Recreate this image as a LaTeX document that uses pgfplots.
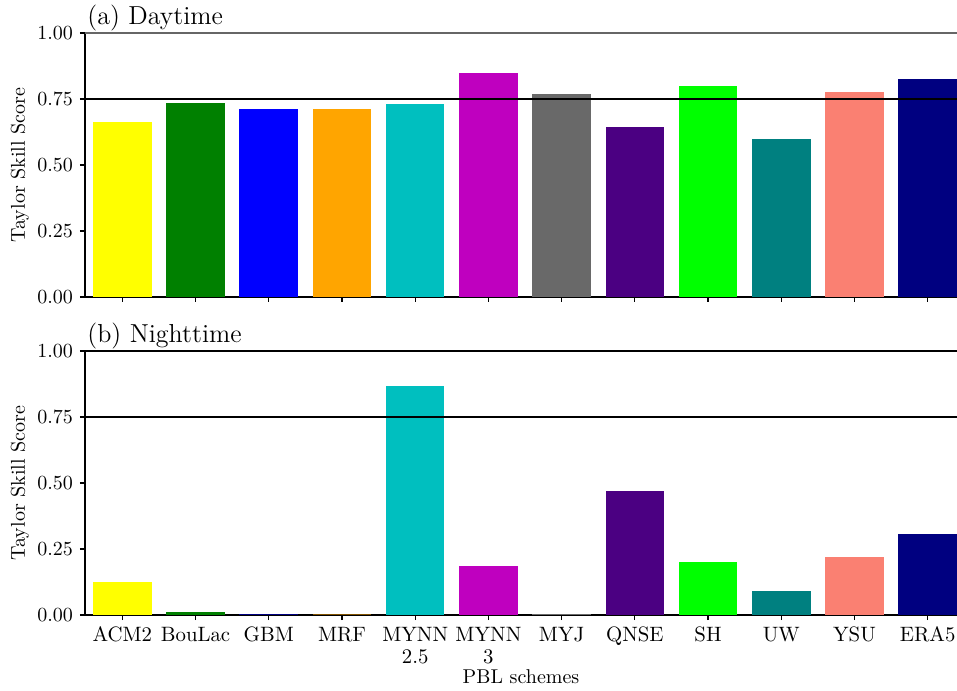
\documentclass[border=0pt]{standalone}
\usepackage{pgfplots}
\pgfplotsset{compat=1.18}
\definecolor{cYellow}{HTML}{FFFF00}
\definecolor{cGreen}{HTML}{008000}
\definecolor{cBlue}{HTML}{0000FF}
\definecolor{cOrange}{HTML}{FFA500}
\definecolor{cCyan}{HTML}{00BFBF}
\definecolor{cMag}{HTML}{BF00BF}
\definecolor{cGray}{HTML}{696969}
\definecolor{cIndigo}{HTML}{4B0082}
\definecolor{cLime}{HTML}{00FF00}
\definecolor{cTeal}{HTML}{008080}
\definecolor{cSalmon}{HTML}{FA8072}
\definecolor{cNavy}{HTML}{000080}
\definecolor{spinegray}{HTML}{666666}
\pgfplotsset{
  b/.style={fill=#1, draw=none, bar shift=0pt},
  panel/.style={
    width=436pt, height=132pt, scale only axis,
    xmin=-0.51, xmax=11.4, ymin=0, ymax=1,
    enlargelimits=false,
    axis x line*=bottom, axis y line*=left,
    axis line style={-, line width=0.6pt, black},
    tick align=outside, major tick length=2.5pt,
    tick style={black, line width=0.6pt},
    xtick={0,1,2,3,4,5,6,7,8,9,10,11},
    ytick={0,0.25,0.5,0.75,1},
    tick label style={font=\fontsize{10.4}{10.9}\selectfont},
    label style={font=\fontsize{10.4}{12}\selectfont},
    yticklabel style={/pgf/number format/fixed, /pgf/number format/fixed zerofill, /pgf/number format/precision=2},
    every axis y label/.style={at={([xshift=-32.5pt]axis description cs:0,0.5)}, rotate=90, anchor=center},
    ylabel={Taylor Skill Score},
    clip=false,
    ybar, bar width=0.8,
  },
}
\begin{document}
\begin{tikzpicture}
\begin{axis}[panel, at={(0,159pt)}, anchor=south west, xticklabels={}]
\addplot[b=cYellow] coordinates {(0,0.663)};
\addplot[b=cGreen] coordinates {(1,0.735)};
\addplot[b=cBlue] coordinates {(2,0.712)};
\addplot[b=cOrange] coordinates {(3,0.712)};
\addplot[b=cCyan] coordinates {(4,0.731)};
\addplot[b=cMag] coordinates {(5,0.848)};
\addplot[b=cGray] coordinates {(6,0.769)};
\addplot[b=cIndigo] coordinates {(7,0.644)};
\addplot[b=cLime] coordinates {(8,0.799)};
\addplot[b=cTeal] coordinates {(9,0.598)};
\addplot[b=cSalmon] coordinates {(10,0.777)};
\addplot[b=cNavy] coordinates {(11,0.826)};
\draw[line width=1pt, black] (rel axis cs:0,0.75) -- (rel axis cs:1,0.75);
\draw[line width=0.7pt, spinegray] (rel axis cs:0,1) -- (rel axis cs:1,1);
\node[anchor=base west, font=\fontsize{13}{15}\selectfont, inner sep=0pt] at (rel axis cs:0,1) [yshift=4pt, xshift=1pt] {(a) Daytime};
\end{axis}
\begin{axis}[panel, at={(0,0)}, anchor=south west,
  xticklabels={ACM2,BouLac,GBM,MRF,{MYNN\\2.5},{MYNN\\3},MYJ,QNSE,SH,UW,YSU,ERA5},
  xticklabel style={align=center},
  every axis x label/.style={at={(axis description cs:0.5,0)}, anchor=base, yshift=-34pt},
  xlabel={PBL schemes}]
\addplot[b=cYellow] coordinates {(0,0.125)};
\addplot[b=cGreen] coordinates {(1,0.011)};
\addplot[b=cBlue!50!black] coordinates {(2,0.003)};
\addplot[b=cOrange!50!black] coordinates {(3,0.002)};
\addplot[b=cCyan] coordinates {(4,0.868)};
\addplot[b=cMag] coordinates {(5,0.185)};
\addplot[b=cGray] coordinates {(6,0.002)};
\addplot[b=cIndigo] coordinates {(7,0.468)};
\addplot[b=cLime] coordinates {(8,0.200)};
\addplot[b=cTeal] coordinates {(9,0.090)};
\addplot[b=cSalmon] coordinates {(10,0.219)};
\addplot[b=cNavy] coordinates {(11,0.306)};
\draw[line width=1pt, black] (rel axis cs:0,0.75) -- (rel axis cs:1,0.75);
\draw[line width=0.6pt, black] (rel axis cs:0,1) -- (rel axis cs:1,1);
\node[anchor=base west, font=\fontsize{13}{15}\selectfont, inner sep=0pt] at (rel axis cs:0,1) [yshift=4pt, xshift=1pt] {(b) Nighttime};
\end{axis}
\pgfresetboundingbox
\path[use as bounding box] (-42.5pt,-37.5pt) rectangle (436pt,307.5pt);
\end{tikzpicture}
\end{document}
